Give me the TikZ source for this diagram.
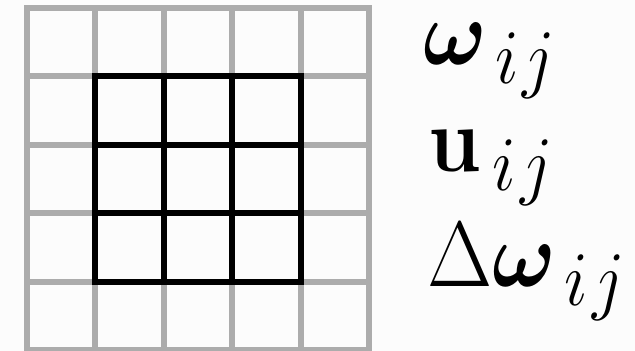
\RequirePackage{fix-cm}
\documentclass[tikz,border=0pt]{standalone}
\usepackage{amsmath}
\usepackage{bm}
\usetikzlibrary{positioning}
\definecolor{gridgray}{RGB}{172,172,172}
\definecolor{stencilblack}{RGB}{0,0,0}
\definecolor{bgwhite}{RGB}{252,252,252}
\DeclareMathSizes{48}{48}{40}{30}
\newcommand{\tallvar}[1]{\scalebox{1}[1.1]{#1}}
\newcommand{\idx}{\mkern3mu i\mkern1mu j}

\begin{document}
\begin{tikzpicture}[
  x=1cm, y=1cm,
  outergrid/.style={draw=gridgray, line width=3.4pt, line cap=rect},
  innergrid/.style={draw=stencilblack, line width=3.4pt, line cap=rect},
  varlab/.style={anchor=base west, inner sep=0pt, font=\fontsize{48}{52}\selectfont},
]

% background
\fill[bgwhite] (0,0) rectangle (12.7,7.02);
\useasboundingbox (0,0) rectangle (12.7,7.02);

% outer 5x5 grid
\begin{scope}[shift={(0.54,0.02)}, x=1.368cm, y=1.368cm]
  \foreach \i in {0,...,5} {
    \draw[outergrid] (\i,0) -- (\i,5);
    \draw[outergrid] (0,\i) -- (5,\i);
  }
  % inner 3x3 stencil
  \foreach \i in {1,...,4} {
    \draw[innergrid] (\i,1) -- (\i,4);
    \draw[innergrid] (1,\i) -- (4,\i);
  }
\end{scope}

% variables
\node[varlab] (omega)  at (8.46,5.72) {\tallvar{$\bm{\omega}_{\idx}$}};
\node[varlab] (vel)    at (8.56,3.58) {\tallvar{$\mathbf{u}_{\idx}$}};
\node[varlab] (domega) at (8.54,1.28) {\tallvar{$\Delta\bm{\omega}_{\idx}$}};

\end{tikzpicture}
\end{document}
